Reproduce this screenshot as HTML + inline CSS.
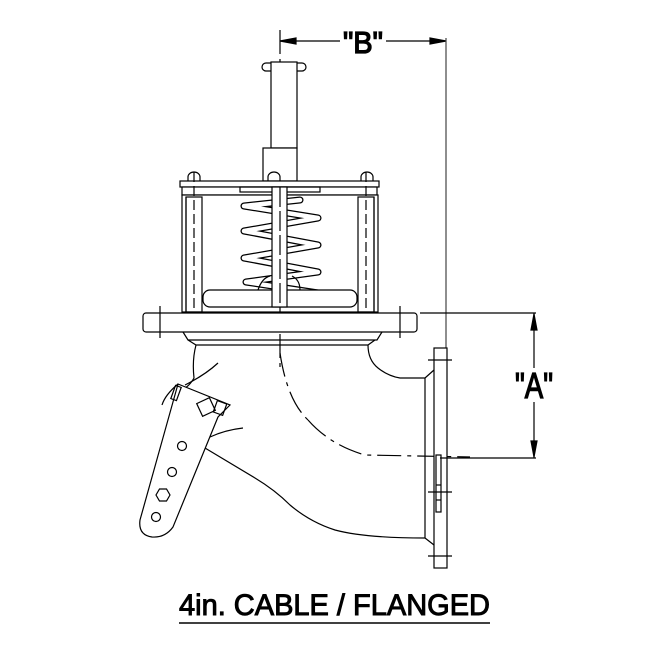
<!DOCTYPE html>
<html><head><style>html,body{margin:0;padding:0;background:#fff}svg{display:block}</style></head>
<body>
<svg width="654" height="654" viewBox="0 0 654 654" xmlns="http://www.w3.org/2000/svg" fill="none" stroke="#000" stroke-width="1.2" font-family="Liberation Sans, sans-serif">
<!-- B dimension -->
<line x1="280" y1="41" x2="340" y2="41"/>
<line x1="386" y1="41" x2="446" y2="41"/>
<path d="M280 41 L296 38 L296 44 Z" fill="#000"/>
<path d="M446 41 L430 38 L430 44 Z" fill="#000"/>
<text x="343" y="53" font-size="31" textLength="40" lengthAdjust="spacingAndGlyphs" fill="#000" stroke="#000" stroke-width="1.3">"B"</text>
<line x1="446" y1="38" x2="446" y2="348" stroke="#444"/>
<!-- centerline -->
<line x1="280" y1="30" x2="280" y2="370" stroke-dasharray="24 5 4 5"/>
<path d="M280 353 Q287 400 308 420" stroke-dasharray="24 6 4 6"/>
<path d="M308 420 Q330 445 365 455 L470 457" stroke-dasharray="24 6 4 6"/>
<!-- stem -->
<rect x="271" y="62" width="26" height="86" fill="#fff"/>
<path d="M271 63 h-5 a4 4 0 0 0 0 8 h5 M297 63 h5 a4 4 0 0 1 0 8 h-5"/>
<rect x="263" y="148" width="34" height="33" fill="#fff"/>
<!-- bolt heads -->
<path d="M188 181 v-4 a6 5 0 0 1 12 0 v4 M268 181 v-4 a6 5 0 0 1 12 0 v4 M361 181 v-4 a6 5 0 0 1 12 0 v4"/>
<!-- plates -->
<rect x="180" y="181" width="199" height="6" fill="#fff"/>
<rect x="182" y="187" width="195" height="8" fill="#fff"/>
<rect x="240" y="187" width="80" height="5"/>
<!-- housing -->
<rect x="182" y="195" width="196" height="117" fill="#fff"/>
<line x1="186" y1="197" x2="186" y2="312"/>
<line x1="374" y1="197" x2="374" y2="312"/>
<rect x="186" y="197" width="16" height="115"/>
<rect x="358" y="197" width="16" height="115"/>
<line x1="194" y1="172" x2="194" y2="320" stroke-dasharray="10 4"/>
<line x1="366" y1="172" x2="366" y2="320" stroke-dasharray="10 4"/>
<!-- spring -->
<g stroke-linejoin="round" stroke-linecap="round">
<path d="M300 200 L244 206 L318 218 L244 231 L318 245 L244 258 L318 272 L246 282 L318 293" stroke-width="7"/>
<path d="M300 200 L244 206 L318 218 L244 231 L318 245 L244 258 L318 272 L246 282 L318 293" stroke="#fff" stroke-width="4.5"/>
</g>
<path d="M258 290 Q262 278 270 276 M300 290 Q300 280 292 276"/>
<rect x="203" y="290" width="154" height="17" rx="7" fill="#fff"/>
<rect x="272" y="187" width="15" height="120" fill="#fff"/>
<line x1="280" y1="187" x2="280" y2="312" stroke-dasharray="20 4"/>
<!-- base flange -->
<rect x="143" y="313" width="274" height="19" rx="3" fill="#fff"/>
<line x1="160" y1="306" x2="160" y2="338"/>
<line x1="400" y1="306" x2="400" y2="338"/>
<line x1="420" y1="313" x2="536" y2="313"/>
<path d="M183 332 L188 340 L377 340 L382 332 M188 340 L196 345 L368 345 L375 340"/>
<!-- body -->
<path d="M196 345 Q192 360 194 378 Q190 385 185 388"/>
<path d="M185 385 Q205 375 218 363"/>
<path d="M368 345 Q368 360 378 368 Q388 376 400 378 L425 378 L434 370"/>
<path d="M205 448 L255 478 Q275 490 290 505 Q310 522 335 530 Q365 538 425 538 L434 545"/>
<path d="M210 437 Q225 430 243 428"/>
<line x1="425" y1="378" x2="425" y2="538"/>
<!-- flange plate -->
<rect x="434" y="348" width="13" height="220" fill="#fff"/>
<line x1="428" y1="360" x2="452" y2="360"/>
<line x1="428" y1="492" x2="452" y2="492"/>
<line x1="428" y1="556" x2="452" y2="556"/>
<rect x="436" y="455" width="5" height="57"/>
<line x1="436" y1="485" x2="441" y2="485"/>
<line x1="436" y1="500" x2="441" y2="500"/>
<!-- A dimension -->
<line x1="440" y1="458" x2="536" y2="458"/>
<line x1="534" y1="313" x2="534" y2="368"/>
<line x1="534" y1="402" x2="534" y2="458"/>
<path d="M534 314 L531 330 L537 330 Z" fill="#000"/>
<path d="M534 457 L531 441 L537 441 Z" fill="#000"/>
<text x="515" y="398" font-size="36" textLength="38" lengthAdjust="spacingAndGlyphs" fill="#000" stroke="#000" stroke-width="1.3">"A"</text>
<!-- lever arm -->
<path d="M178 384 L230 405 L218 417 L173 527 Q165 538 152 537 Q138 535 140 520 Z" fill="#fff"/>
<path d="M178 384 Q165 395 162 405"/>
<rect x="199" y="400" width="14" height="14" transform="rotate(-25 206 407)"/>
<rect x="215" y="402" width="10" height="12" transform="rotate(20 220 408)"/>
<rect x="173" y="386" width="6" height="14" transform="rotate(20 176 393)"/>
<circle cx="182" cy="446" r="4.5"/>
<circle cx="172" cy="472" r="4.5"/>
<polygon points="170,495 166.5,501 159.5,501 156,495 159.5,489 166.5,489"/>
<circle cx="156" cy="517" r="4.5"/>
<!-- title -->
<text x="179" y="615" font-size="30" textLength="311" lengthAdjust="spacingAndGlyphs" fill="#000" stroke="#000" stroke-width="1">4in. CABLE / FLANGED</text>
<line x1="179" y1="623" x2="490" y2="623" stroke-width="1.5"/>
</svg>
</body></html>
